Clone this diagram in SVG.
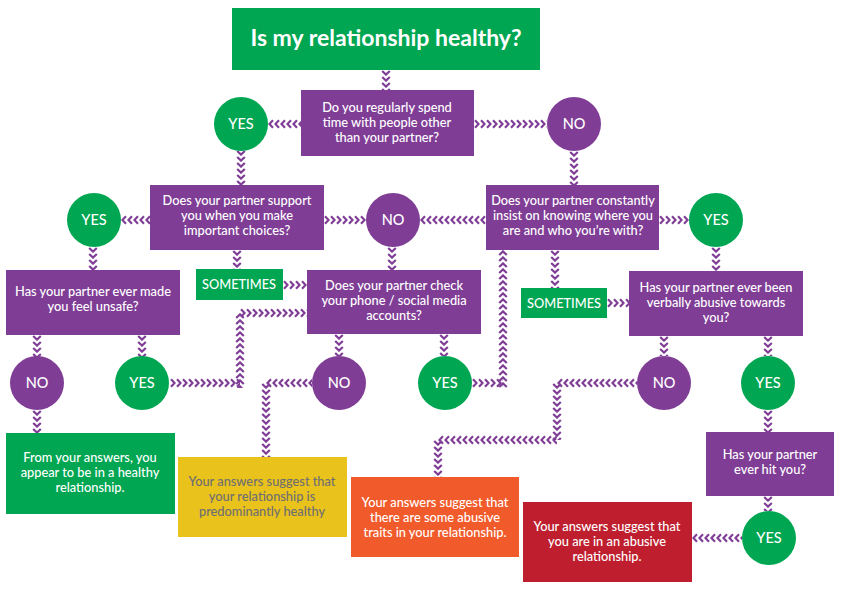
<svg xmlns="http://www.w3.org/2000/svg" width="842" height="595" viewBox="0 0 842 595">
<style>
.t{font-family:Lato,"Open Sans","Liberation Sans",sans-serif;font-size:12.8px;font-weight:500;fill:#fff;text-anchor:middle}
.c{font-family:Lato,"Open Sans","Liberation Sans",sans-serif;font-size:14.5px;font-weight:500;fill:#fff;text-anchor:middle}
.pu{fill:#7F3D96}
.gr{fill:#00A651}
.ch{fill:none;stroke:#7F3D96;stroke-width:2.2}
.conn line{stroke-width:10}
.r{stroke:url(#chR)}.l{stroke:url(#chL)}.u{stroke:url(#chU)}.d{stroke:url(#chD)}
</style>
<defs>
<pattern id="chR" patternUnits="userSpaceOnUse" x="0" y="-5" width="6" height="10"><path class="ch" d="M1,1.2L4.6,5L1,8.8"/></pattern>
<pattern id="chL" patternUnits="userSpaceOnUse" x="0" y="-5" width="6" height="10"><path class="ch" d="M5,1.2L1.4,5L5,8.8"/></pattern>
<pattern id="chD" patternUnits="userSpaceOnUse" x="-5" y="0" width="10" height="6"><path class="ch" d="M1.2,1L5,4.6L8.8,1"/></pattern>
<pattern id="chU" patternUnits="userSpaceOnUse" x="-5" y="0" width="10" height="6"><path class="ch" d="M1.2,5L5,1.4L8.8,5"/></pattern>
</defs>
<rect width="842" height="595" fill="#fff"/>

<g id="connectors" class="conn">
<line class="d" transform="translate(386,70)" x1="0" y1="0" x2="0" y2="20"/>
<line class="l" transform="translate(268,124)" x1="0" y1="0" x2="33" y2="0"/>
<line class="r" transform="translate(474,124)" x1="0" y1="0" x2="73" y2="0"/>
<line class="d" transform="translate(241,150)" x1="0" y1="0" x2="0" y2="35"/>
<line class="d" transform="translate(574,151)" x1="0" y1="0" x2="0" y2="35"/>
<line class="l" transform="translate(121,220)" x1="0" y1="0" x2="29" y2="0"/>
<line class="r" transform="translate(324,220)" x1="0" y1="0" x2="42" y2="0"/>
<line class="l" transform="translate(420,220)" x1="0" y1="0" x2="66" y2="0"/>
<line class="r" transform="translate(659,220)" x1="0" y1="0" x2="31" y2="0"/>
<line class="d" transform="translate(93,247)" x1="0" y1="0" x2="0" y2="23"/>
<line class="d" transform="translate(237,250)" x1="0" y1="0" x2="0" y2="19"/>
<line class="d" transform="translate(392,247)" x1="0" y1="0" x2="0" y2="23"/>
<line class="d" transform="translate(555,250)" x1="0" y1="0" x2="0" y2="38"/>
<line class="d" transform="translate(716,247)" x1="0" y1="0" x2="0" y2="25"/>
<line class="r" transform="translate(283,285)" x1="0" y1="0" x2="24" y2="0"/>
<line class="r" transform="translate(607,303)" x1="0" y1="0" x2="22" y2="0"/>
<line class="d" transform="translate(37,335)" x1="0" y1="0" x2="0" y2="22"/>
<line class="d" transform="translate(142,335)" x1="0" y1="0" x2="0" y2="22"/>
<line class="d" transform="translate(339,334)" x1="0" y1="0" x2="0" y2="22"/>
<line class="d" transform="translate(444,334)" x1="0" y1="0" x2="0" y2="22"/>
<line class="d" transform="translate(664,336)" x1="0" y1="0" x2="0" y2="20"/>
<line class="d" transform="translate(768,336)" x1="0" y1="0" x2="0" y2="20"/>
<line class="r" transform="translate(170,383)" x1="0" y1="0" x2="70" y2="0"/>
<line class="u" transform="translate(240,313)" x1="0" y1="0" x2="0" y2="75"/>
<line class="r" transform="translate(240,313)" x1="0" y1="0" x2="67" y2="0"/>
<line class="l" transform="translate(266,383)" x1="0" y1="0" x2="46" y2="0"/>
<line class="d" transform="translate(266,383)" x1="0" y1="0" x2="0" y2="74"/>
<line class="r" transform="translate(472,383)" x1="0" y1="0" x2="31" y2="0"/>
<line class="u" transform="translate(503,250)" x1="0" y1="0" x2="0" y2="138"/>
<line class="l" transform="translate(557,383)" x1="0" y1="0" x2="80" y2="0"/>
<line class="d" transform="translate(557,383)" x1="0" y1="0" x2="0" y2="57"/>
<line class="l" transform="translate(438,440)" x1="0" y1="0" x2="119" y2="0"/>
<line class="d" transform="translate(438,440)" x1="0" y1="0" x2="0" y2="37"/>
<line class="d" transform="translate(37,410)" x1="0" y1="0" x2="0" y2="23"/>
<line class="d" transform="translate(768,410)" x1="0" y1="0" x2="0" y2="22"/>
<line class="d" transform="translate(768,496)" x1="0" y1="0" x2="0" y2="15"/>
<line class="l" transform="translate(692,538)" x1="0" y1="0" x2="50" y2="0"/>
</g>

<g id="title"><rect class="gr" x="232" y="8" width="308" height="62"/><text x="386" y="46" font-family="Lato,'Open Sans','Liberation Sans',sans-serif" font-size="23" font-weight="bold" fill="#fff" text-anchor="middle">Is my relationship healthy?</text></g>

<g id="q1"><rect class="pu" x="301" y="90" width="173" height="66"/><text class="t" x="387"><tspan x="387" y="112">Do you regularly spend</tspan><tspan x="387" y="127">time with people other</tspan><tspan x="387" y="142">than your partner?</tspan></text></g>
<g id="yes1"><circle class="gr" cx="241" cy="124" r="27"/><text class="c" x="241" y="129">YES</text></g>
<g id="no1"><circle class="pu" cx="574" cy="124" r="27"/><text class="c" x="574" y="129">NO</text></g>

<g id="q2"><rect class="pu" x="150" y="185" width="174" height="65"/><text class="t"><tspan x="237" y="205">Does your partner support</tspan><tspan x="237" y="220">you when you make</tspan><tspan x="237" y="235">important choices?</tspan></text></g>
<g id="yes2"><circle class="gr" cx="94" cy="220" r="27"/><text class="c" x="94" y="225">YES</text></g>
<g id="no2"><circle class="pu" cx="393" cy="220" r="27"/><text class="c" x="393" y="225">NO</text></g>
<g id="q3"><rect class="pu" x="486" y="185" width="173" height="65"/><text class="t"><tspan x="573" y="205">Does your partner constantly</tspan><tspan x="573" y="220">insist on knowing where you</tspan><tspan x="573" y="235">are and who you’re with?</tspan></text></g>
<g id="yes3"><circle class="gr" cx="716" cy="220" r="27"/><text class="c" x="716" y="225">YES</text></g>

<g id="q4"><rect class="pu" x="6" y="270" width="174" height="65"/><text class="t"><tspan x="93" y="296">Has your partner ever made</tspan><tspan x="93" y="311">you feel unsafe?</tspan></text></g>
<g id="sometimes1"><rect class="gr" x="196" y="269" width="87" height="31"/><text class="t" x="239" y="289" font-size="13.5">SOMETIMES</text></g>
<g id="q5"><rect class="pu" x="307" y="270" width="174" height="64"/><text class="t"><tspan x="394" y="290">Does your partner check</tspan><tspan x="394" y="305">your phone / social media</tspan><tspan x="394" y="320">accounts?</tspan></text></g>
<g id="sometimes2"><rect class="gr" x="521" y="288" width="86" height="30"/><text class="t" x="564" y="308" font-size="13.5">SOMETIMES</text></g>
<g id="q6"><rect class="pu" x="629" y="271" width="174" height="65"/><text class="t"><tspan x="716" y="292">Has your partner ever been</tspan><tspan x="716" y="307">verbally abusive towards</tspan><tspan x="716" y="322">you?</tspan></text></g>

<g id="no4"><circle class="pu" cx="37" cy="383" r="27"/><text class="c" x="37" y="388">NO</text></g>
<g id="yes4"><circle class="gr" cx="142" cy="383" r="27"/><text class="c" x="142" y="388">YES</text></g>
<g id="no5"><circle class="pu" cx="339" cy="383" r="27"/><text class="c" x="339" y="388">NO</text></g>
<g id="yes5"><circle class="gr" cx="445" cy="383" r="27"/><text class="c" x="445" y="388">YES</text></g>
<g id="no6"><circle class="pu" cx="664" cy="383" r="27"/><text class="c" x="664" y="388">NO</text></g>
<g id="yes6"><circle class="gr" cx="768" cy="383" r="27"/><text class="c" x="768" y="388">YES</text></g>

<g id="healthy"><rect class="gr" x="6" y="433" width="169" height="81"/><text class="t"><tspan x="90" y="462">From your answers, you</tspan><tspan x="90" y="477">appear to be in a healthy</tspan><tspan x="90" y="492">relationship.</tspan></text></g>
<g id="mostlyhealthy"><rect fill="#EAC21C" x="178" y="457" width="169" height="80"/><text class="t" style="fill:#6E6F72"><tspan x="262" y="486">Your answers suggest that</tspan><tspan x="262" y="501">your relationship is</tspan><tspan x="262" y="516">predominantly healthy</tspan></text></g>
<g id="sometraits"><rect fill="#F15A2A" x="351" y="477" width="168" height="80"/><text class="t"><tspan x="435" y="507">Your answers suggest that</tspan><tspan x="435" y="522">there are some abusive</tspan><tspan x="435" y="537">traits in your relationship.</tspan></text></g>
<g id="q7"><rect class="pu" x="706" y="432" width="128" height="64"/><text class="t"><tspan x="770" y="459">Has your partner</tspan><tspan x="770" y="474">ever hit you?</tspan></text></g>
<g id="yes7"><circle class="gr" cx="769" cy="538" r="27"/><text class="c" x="769" y="543">YES</text></g>
<g id="abusive"><rect fill="#BE1E2D" x="523" y="502" width="169" height="80"/><text class="t"><tspan x="607" y="531">Your answers suggest that</tspan><tspan x="607" y="546">you are in an abusive</tspan><tspan x="607" y="561">relationship.</tspan></text></g>
</svg>
